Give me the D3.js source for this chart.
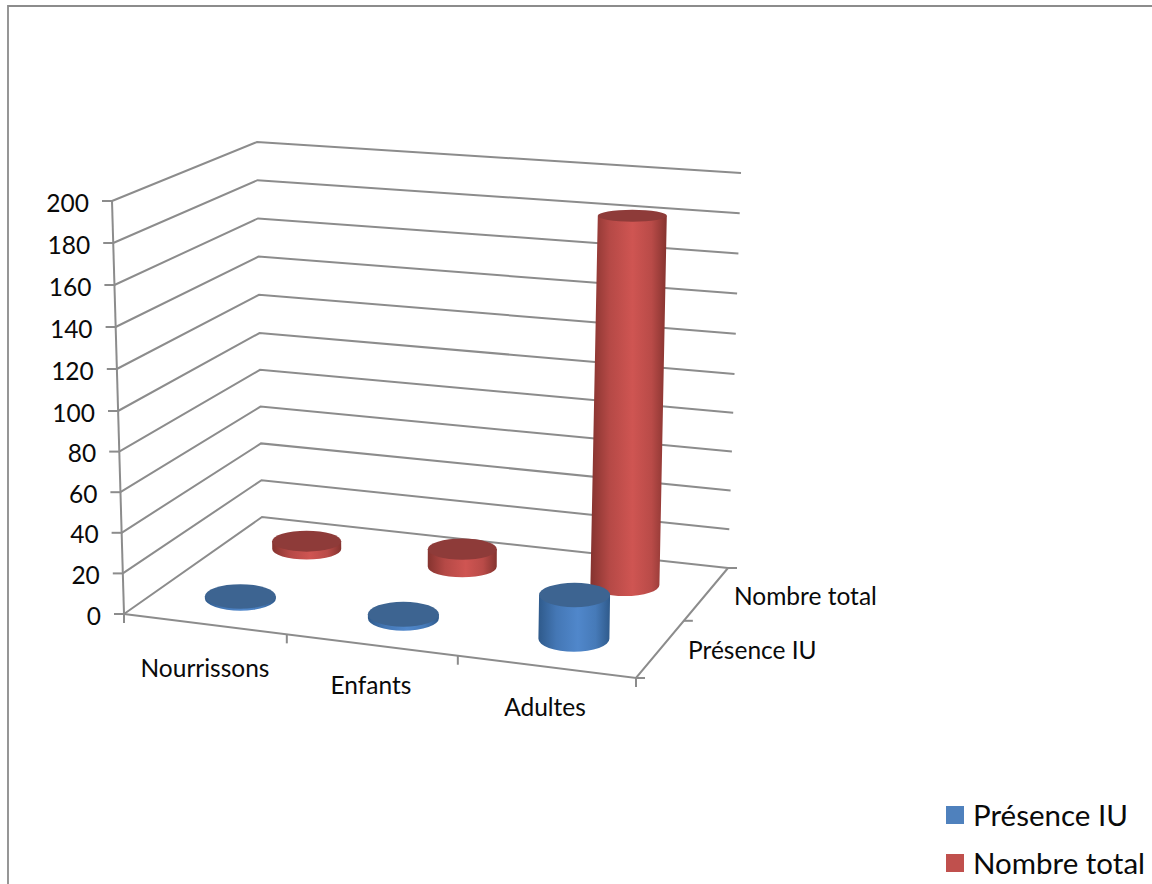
<!DOCTYPE html>
<html lang="fr">
<head>
<meta charset="utf-8">
<title>Présence IU et nombre total</title>
<script src="https://cdn.jsdelivr.net/npm/d3@7"></script>
<style>
html,body{margin:0;padding:0;background:#fff;overflow:hidden}
svg{display:block}
text{font-family:Lato,"Open Sans",sans-serif;fill:#0a0a0a}
</style>
</head>
<body>
<svg id="chart" width="1152" height="884"></svg>
<script>
// Chart values
const categories = ["Nourrissons", "Enfants", "Adultes"];
const seriesNames = ["Présence IU", "Nombre total"];
const presenceIU = [1, 2, 22];
const nombreTotal = [4, 9, 187];
const valueTicks = d3.range(0, 201, 20);

const svg = d3.select("#chart");
const grey = "#8c8c8c";
const labelSize = 24.5;

// Wall edges of the 3D box: value -> screen y along three vertical edges
const stops = [0, 100, 200];
const frontLeftY = d3.scaleLinear().domain(stops).range([614, 411, 201]);
const backLeftY = d3.scaleLinear().domain(stops).range([517, 333, 142]);
const backRightY = d3.scaleLinear().domain(stops).range([568, 374, 173]);
const frontLeftX = d3.scaleLinear().domain([0, 200]).range([124, 112]);
const backLeftX = d3.scaleLinear().domain([0, 200]).range([262, 257]);
const backRightX = d3.scaleLinear().domain([0, 200]).range([728, 741]);

// Floor corners and the slightly perspective spacing of the two floor axes
const corner = {fl: [124, 614], fr: [636, 678], bl: [262, 517], br: [728, 568]};
const catScale = d3.scaleLinear().domain([0, 1, 2, 3]).range([0, 0.318, 0.652, 1]);
const serScale = d3.scaleLinear().domain([0, 1, 2]).range([0, 0.52, 1]);
const frontHeight = d3.scaleLinear().domain(stops).range([0, 203, 413]);
const backHeight = d3.scaleLinear().domain(stops).range([0, 190, 390]);
const leanRate = d3.scaleLinear().domain([124, 727]).range([-0.029, 0.03]);
const ryScale = d3.scaleLinear().domain([217, 614]).range([7, 12.5]);

const mix = (a, b, t) => a + (b - a) * t;
function floorPoint(u, v) {
  const fx = mix(corner.fl[0], corner.fr[0], u), fy = mix(corner.fl[1], corner.fr[1], u);
  const bx = mix(corner.bl[0], corner.br[0], u), by = mix(corner.bl[1], corner.br[1], u);
  return [mix(fx, bx, v), mix(fy, by, v)];
}

// Frame of the chart area, open on the right and at the bottom
svg.append("path").attr("d", d3.line()([[8, 884], [8, 6], [1152, 6]]))
  .attr("fill", "none").attr("stroke", grey).attr("stroke-width", 1.8);

const axes = svg.append("g").attr("fill", "none").attr("stroke", grey).attr("stroke-width", 2);
const seg = pts => axes.append("path").attr("d", d3.line()(pts));

// Gridlines across both walls, with value ticks and labels on the left edge
valueTicks.forEach(t => {
  const x0 = frontLeftX(t), y0 = frontLeftY(t);
  seg([[x0, y0], [backLeftX(t), backLeftY(t)], [backRightX(t), backRightY(t)]]);
  seg([[x0 - 10, y0], [x0, y0]]);
  svg.append("text").attr("x", x0 - 23).attr("y", y0 + 1)
    .attr("text-anchor", "end").attr("dominant-baseline", "central")
    .attr("font-size", labelSize).text(t);
});

// Left wall edge and floor outline
seg([[frontLeftX(200), frontLeftY(200)], [frontLeftX(0), frontLeftY(0)]]);
seg([corner.fl, corner.fr, corner.br]);

// Category ticks along the front edge
d3.range(0, 4).forEach(i => {
  const [x, y] = floorPoint(catScale(i), 0);
  seg([[x, y], [x, y + 9]]);
});
// Series ticks along the right edge
d3.range(0, 3).forEach(j => {
  const [x, y] = floorPoint(1, serScale(j));
  seg([[x, y], [x + 9, y]]);
});

// Axis labels
const catLabelPos = [[205, 667], [371, 684], [545, 706]];
categories.forEach((c, i) => {
  svg.append("text").attr("x", catLabelPos[i][0]).attr("y", catLabelPos[i][1])
    .attr("text-anchor", "middle").attr("dominant-baseline", "central")
    .attr("font-size", labelSize).text(c);
});
const serLabelPos = [[688, 649], [734, 595]];
seriesNames.forEach((s, j) => {
  svg.append("text").attr("x", serLabelPos[j][0]).attr("y", serLabelPos[j][1])
    .attr("dominant-baseline", "central").attr("font-size", labelSize).text(s);
});

// Shading of the cylinder walls
const palette = [
  {edge: "#2f5a8b", mid: "#5087cb", top: "#3d6491"},
  {edge: "#85332f", mid: "#cf5552", top: "#8e3b39"}
];
const defs = svg.append("defs");
palette.forEach((p, j) => {
  const g = defs.append("linearGradient").attr("id", "wall" + j);
  [[0, p.edge], [0.25, d3.interpolateRgb(p.edge, p.mid)(0.65)], [0.55, p.mid],
   [0.8, d3.interpolateRgb(p.edge, p.mid)(0.7)], [1, p.edge]].forEach(([o, c]) => {
    g.append("stop").attr("offset", o).attr("stop-color", c);
  });
});

// One cylinder: wall from floor to value, then the darker top disc
function cylinder(i, j, value) {
  const u = catScale(i + 0.5), v = serScale(j + 0.5);
  const [fx, by] = floorPoint(u, v);
  const bx = fx + (j === 0 ? 1 : 2);
  const h = mix(frontHeight(value), backHeight(value), v);
  const tx = bx + leanRate(bx) * h, ty = by - h;
  const rx = j === 0 ? 35.5 : 34.5;
  const rb = ryScale(by) - (j === 1 ? 1 : 0), rt = ryScale(ty) - (j === 1 ? 1 : 0);
  const p = palette[j];
  svg.append("path")
    .attr("d", `M${bx - rx},${by} A${rx},${rb} 0 0 0 ${bx + rx},${by} L${tx + rx},${ty} L${tx - rx},${ty} Z`)
    .attr("fill", `url(#wall${j})`);
  svg.append("ellipse").attr("cx", tx).attr("cy", ty).attr("rx", rx).attr("ry", rt)
    .attr("fill", p.top);
}

// Back row first so the front row overlaps it
[nombreTotal, presenceIU].forEach((vals, k) => {
  const j = 1 - k;
  vals.forEach((val, i) => cylinder(i, j, val));
});

// Legend
const legendColors = ["#4f81bd", "#c0504d"];
const legendY = d3.scalePoint().domain(seriesNames).range([815, 863]);
seriesNames.forEach((s, j) => {
  svg.append("rect").attr("x", 946).attr("y", legendY(s) - 9).attr("width", 18).attr("height", 18)
    .attr("fill", legendColors[j]);
  svg.append("text").attr("x", 973).attr("y", legendY(s) - 1).attr("dominant-baseline", "central")
    .attr("font-size", 29.5).text(s);
});
</script>
</body>
</html>
